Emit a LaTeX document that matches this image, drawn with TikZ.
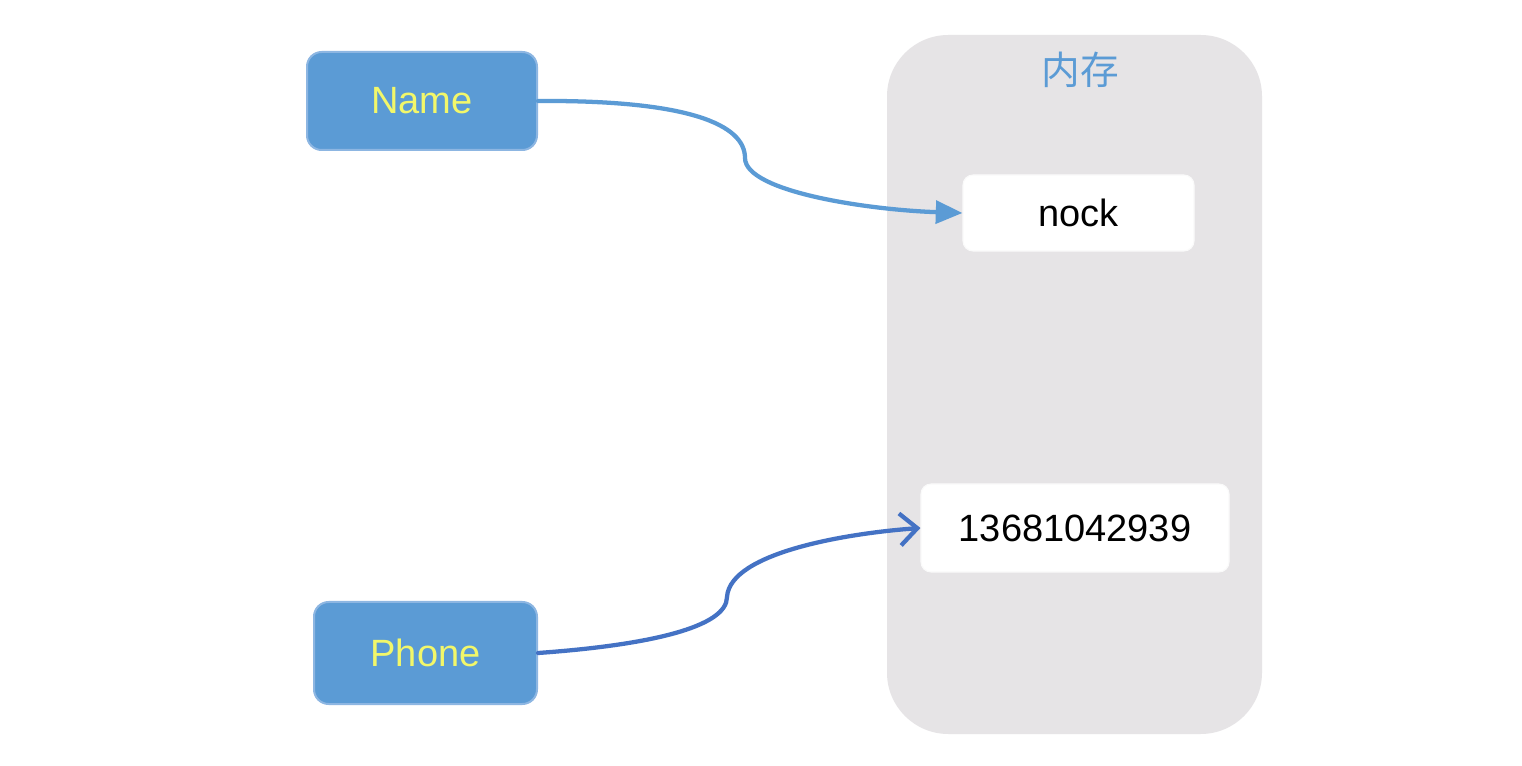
\documentclass[tikz,border=0pt]{standalone}
\usepackage{fontspec}
\setmainfont{Liberation Sans}
\newfontfamily\cjk{Noto Sans CJK SC}
\usetikzlibrary{arrows.meta}
\definecolor{boxblue}{HTML}{5B9BD5}
\definecolor{boxedge}{HTML}{8DB6E2}
\definecolor{memgray}{HTML}{E6E4E6}
\definecolor{txtyellow}{HTML}{F2F76A}
\definecolor{arrowA}{HTML}{5B9BD5}
\definecolor{arrowB}{HTML}{4472C4}
\tikzset{
  varbox/.style={draw=boxedge, line width=1.5pt, fill=boxblue, rounded corners=11pt,
    text=txtyellow, font=\fontsize{28.5}{32}\selectfont},
  valbox/.style={draw=white!96!gray, line width=0.8pt, fill=white, rounded corners=7.5pt,
    text=black, font=\fontsize{28.5}{32}\selectfont},
  membox/.style={fill=memgray, rounded corners=46pt},
  conn/.style={line width=3.2pt, line cap=round},
}
\begin{document}
\begin{tikzpicture}[x=0.75pt, y=-0.75pt]
\useasboundingbox (0,0) rectangle (1522,766);
\fill[white] (0,0) rectangle (1522,766);
\node[membox, minimum width=281.25pt, minimum height=524.25pt] (mem) at (1074.5,384.5) {};
\node[text=boxblue, font=\cjk\fontsize{29}{32}\selectfont] (title) at (1080,70) {内存};
\node[varbox, minimum width=172.5pt, minimum height=73.5pt] (name) at (422,101) {Name};
\node[varbox, minimum width=167.25pt, minimum height=76.5pt] (phone) at (425.5,653) {Phone};
\node[valbox, minimum width=173.25pt, minimum height=57pt] (nock) at (1078.5,213) {nock};
\node[valbox, minimum width=231pt, minimum height=66pt] (num) at (1075,528) {13681042939};
\coordinate (k1) at (745,158);
\coordinate (k2) at (727,597);
\draw[conn, draw=arrowA, -{Triangle[length=20pt,width=17pt]}]
  (name.east) .. controls (690,100) and (745,125) .. (k1)
  .. controls (745,192) and (870,210) .. (nock.west);
\draw[conn, draw=arrowB, -{Straight Barb[length=13pt,width=24pt,line width=3.2pt]}]
  (phone.east) .. controls (650,645) and (727,627) .. (k2)
  .. controls (730,552) and (850,533) .. (num.west);
\end{tikzpicture}
\end{document}
